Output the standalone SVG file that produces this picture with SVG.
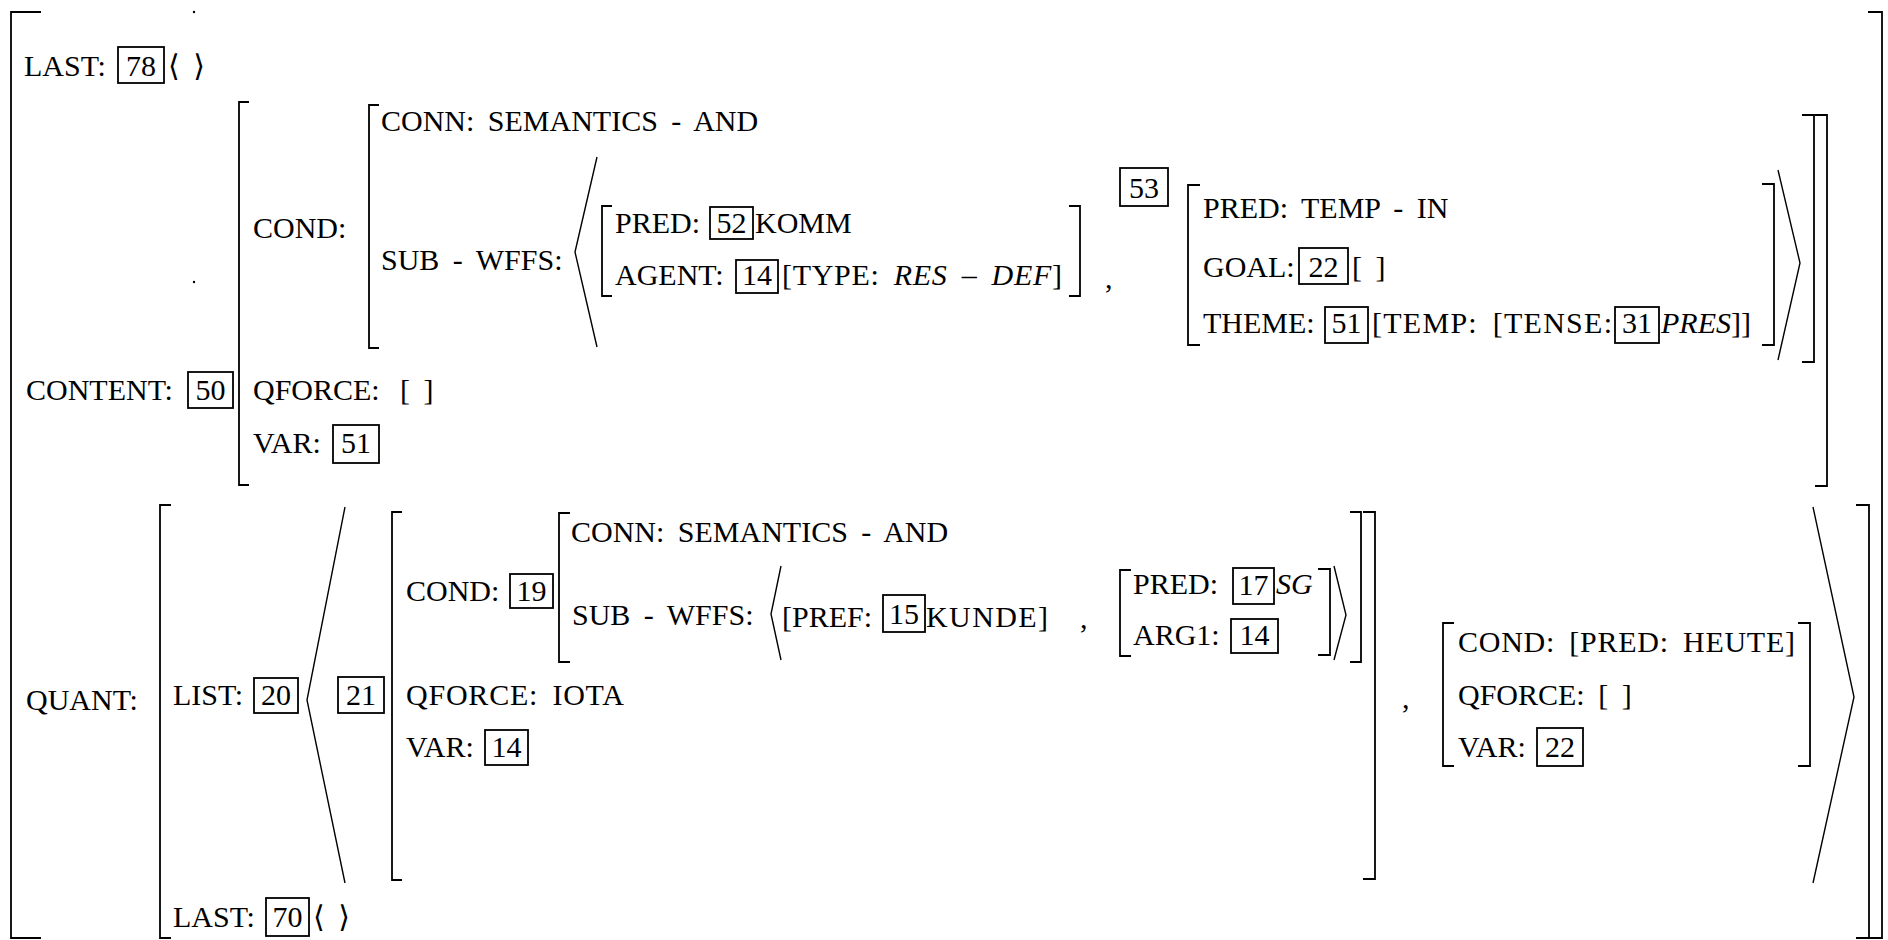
<svg xmlns="http://www.w3.org/2000/svg" width="1888" height="940" viewBox="0 0 1888 940">
<style>
.t{font-family:"Liberation Serif","DejaVu Serif",serif;font-size:30px;fill:#000;word-spacing:6px}
.i{font-style:italic}
.n{text-anchor:middle}
.b{fill:none;stroke:#000;stroke-width:1.8}
.a{fill:none;stroke:#000;stroke-width:1.4}
</style>
<rect width="1888" height="940" fill="#fff"/>
<g id="outer">
<path class="b" d="M41 12H11V938H41"/>
<path class="b" d="M1868 12H1882V938H1868"/>
<circle cx="194" cy="12" r="1.2" fill="#000"/>
<circle cx="194" cy="282" r="1.2" fill="#000"/>
</g>
<g id="last-top">
<text class="t" x="24" y="76">LAST:</text>
<rect class="b" x="118" y="47" width="46" height="36"/>
<text class="t n" x="141" y="76">78</text>
<text class="t" x="168" y="76">⟨ ⟩</text>
</g>
<g id="content">
<text class="t" x="26" y="400">CONTENT:</text>
<rect class="b" x="188" y="372" width="45" height="36"/>
<text class="t n" x="210.5" y="400">50</text>
<path class="b" d="M249 102H239V485H249"/>
<text class="t" x="253" y="238">COND:</text>
<path class="b" d="M379 105H369V348H379"/>
<text class="t" x="381" y="131">CONN: SEMANTICS - AND</text>
<text class="t" x="381" y="270">SUB - WFFS:</text>
<polyline class="a" points="597,157 575,252 597,347"/>
<path class="b" d="M612 206H602V296H612"/>
<text class="t" x="615" y="233">PRED:</text>
<rect class="b" x="710" y="207" width="43" height="32"/>
<text class="t n" x="731.5" y="233">52</text>
<text class="t" x="755" y="233">KOMM</text>
<text class="t" x="615" y="285">AGENT:</text>
<rect class="b" x="736" y="260" width="42" height="33"/>
<text class="t n" x="757" y="285">14</text>
<text class="t" x="782" y="285" textLength="280">[TYPE: <tspan class="i">RES – DEF</tspan>]</text>
<path class="b" d="M1069 206H1080V296H1069"/>
<text class="t" x="1105" y="288">,</text>
<rect class="b" x="1120" y="168" width="48" height="38"/>
<text class="t n" x="1144" y="198">53</text>
<path class="b" d="M1200 185H1188V345H1200"/>
<text class="t" x="1203" y="218">PRED: TEMP - IN</text>
<text class="t" x="1203" y="277">GOAL:</text>
<rect class="b" x="1299" y="248" width="49" height="36"/>
<text class="t n" x="1323.5" y="277">22</text>
<text class="t" x="1352" y="277">[  ]</text>
<text class="t" x="1203" y="333">THEME:</text>
<rect class="b" x="1325" y="307" width="43" height="36"/>
<text class="t n" x="1346.5" y="333">51</text>
<text class="t" x="1372" y="333" textLength="240">[TEMP: [TENSE:</text>
<rect class="b" x="1615" y="307" width="44" height="36"/>
<text class="t n" x="1637" y="333">31</text>
<text class="t" x="1661" y="333"><tspan class="i">PRES</tspan>]]</text>
<path class="b" d="M1762 184H1774V345H1762"/>
<polyline class="a" points="1778,170 1800,263 1778,360"/>
<path class="b" d="M1802 115H1814V362H1802"/>
<path class="b" d="M1815 115H1827V486H1815"/>
<text class="t" x="253" y="400">QFORCE:</text>
<text class="t" x="400" y="400">[ ]</text>
<text class="t" x="253" y="453">VAR:</text>
<rect class="b" x="333" y="425" width="46" height="38"/>
<text class="t n" x="356" y="453">51</text>
</g>
<g id="quant">
<text class="t" x="26" y="710">QUANT:</text>
<path class="b" d="M171 505H160V938H171"/>
<text class="t" x="173" y="705">LIST:</text>
<rect class="b" x="254" y="678" width="44" height="35"/>
<text class="t n" x="276" y="705">20</text>
<polyline class="a" points="345,507 307,700 345,883"/>
<rect class="b" x="338" y="677" width="46" height="36"/>
<text class="t n" x="361" y="705">21</text>
<path class="b" d="M402 512H392V880H402"/>
<text class="t" x="406" y="601">COND:</text>
<rect class="b" x="510" y="574" width="43" height="34"/>
<text class="t n" x="531.5" y="601">19</text>
<path class="b" d="M570 513H559V662H570"/>
<text class="t" x="571" y="542">CONN: SEMANTICS - AND</text>
<text class="t" x="572" y="625">SUB - WFFS:</text>
<polyline class="a" points="781,566 771,614 781,660"/>
<text class="t" x="782" y="627">[PREF:</text>
<rect class="b" x="883" y="595" width="42" height="37"/>
<text class="t n" x="904" y="624">15</text>
<text class="t" x="926" y="627" textLength="122">KUNDE]</text>
<text class="t" x="1080" y="628">,</text>
<path class="b" d="M1131 570H1120V656H1131"/>
<text class="t" x="1133" y="594">PRED:</text>
<rect class="b" x="1233" y="568" width="41" height="36"/>
<text class="t n" x="1253.5" y="595">17</text>
<text class="t i" x="1276" y="594">SG</text>
<text class="t" x="1133" y="645">ARG1:</text>
<rect class="b" x="1231" y="619" width="47" height="34"/>
<text class="t n" x="1254.5" y="645">14</text>
<path class="b" d="M1318 569H1330V655H1318"/>
<polyline class="a" points="1334,566 1346,615 1334,660"/>
<path class="b" d="M1350 512H1361V662H1350"/>
<path class="b" d="M1363 512H1375V879H1363"/>
<text class="t" x="406" y="705" textLength="218">QFORCE: IOTA</text>
<text class="t" x="406" y="757">VAR:</text>
<rect class="b" x="485" y="730" width="43" height="35"/>
<text class="t n" x="506.5" y="757">14</text>
<text class="t" x="1402" y="708">,</text>
<path class="b" d="M1454 623H1443V766H1454"/>
<text class="t" x="1458" y="652" textLength="337">COND: [PRED: HEUTE]</text>
<text class="t" x="1458" y="705">QFORCE: [ ]</text>
<text class="t" x="1458" y="757">VAR:</text>
<rect class="b" x="1537" y="728" width="46" height="38"/>
<text class="t n" x="1560" y="757">22</text>
<path class="b" d="M1798 623H1810V766H1798"/>
<polyline class="a" points="1813,507 1854,697 1813,883"/>
<path class="b" d="M1856 505H1869V938H1856"/>
<text class="t" x="173" y="927">LAST:</text>
<rect class="b" x="266" y="898" width="43" height="38"/>
<text class="t n" x="287.5" y="927">70</text>
<text class="t" x="313" y="927">⟨ ⟩</text>
</g>
</svg>
